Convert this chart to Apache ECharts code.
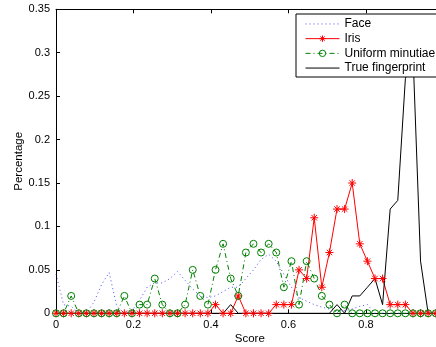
<!DOCTYPE html>
<html><head><meta charset="utf-8">
<script src="https://cdn.jsdelivr.net/npm/echarts@6/dist/echarts.min.js"></script>
<style>html,body{margin:0;padding:0;background:#fff}#c{width:436px;height:347px}</style>
</head><body><div id="c"></div>
<script>
// Score bins (x values)
const scores = [0, 0.0196, 0.0392, 0.0588, 0.0784, 0.098, 0.1176, 0.1372, 0.1568, 0.1764,
  0.196, 0.2156, 0.2352, 0.2548, 0.2744, 0.294, 0.3136, 0.3332, 0.3528, 0.3724,
  0.392, 0.4116, 0.4312, 0.4508, 0.4704, 0.49, 0.5096, 0.5292, 0.5488, 0.5684,
  0.588, 0.6076, 0.6272, 0.6468, 0.6664, 0.686, 0.7056, 0.7252, 0.7448, 0.7644,
  0.784, 0.8036, 0.8232, 0.8428, 0.8624, 0.882, 0.9016, 0.9212, 0.9408, 0.9604, 0.98];
const face = [0.045, 0.01, 0.008, 0, 0, 0.013, 0.033, 0.047, 0.008, 0,
  0.003, 0.015, 0.03, 0.035, 0.035, 0.04, 0.048, 0.038, 0.028, 0.02,
  0.018, 0.02, 0.025, 0.03, 0.03, 0.04, 0.05, 0.062, 0.068, 0.06,
  0.045, 0.03, 0.018, 0.014, 0.01, 0.007, 0.005, 0.003, 0.003, 0.005,
  0.008, 0.01, 0, 0, 0, 0, 0, 0, 0, 0, 0];
const iris = [0, 0, 0, 0, 0, 0, 0, 0, 0, 0,
  0, 0, 0, 0, 0, 0, 0, 0, 0, 0,
  0, 0.01, 0, 0, 0.02, 0, 0, 0, 0, 0.01,
  0.01, 0.01, 0.05, 0.04, 0.11, 0.03, 0.07, 0.12, 0.12, 0.15,
  0.08, 0.06, 0.04, 0.04, 0.01, 0.01, 0.01, 0, 0, 0, 0];
const minutiae = [0, 0, 0.02, 0, 0, 0, 0, 0, 0, 0.02,
  0, 0.01, 0.01, 0.04, 0.01, 0, 0, 0.01, 0.05, 0.02,
  0.01, 0.05, 0.08, 0.04, 0.02, 0.07, 0.08, 0.07, 0.08, 0.07,
  0.03, 0.06, 0.01, 0.06, 0.04, 0.02, 0.01, 0, 0.01, 0,
  0, 0, 0, 0, 0, 0, 0, 0, 0, 0, 0];
const fingerprint = [0, 0, 0, 0, 0, 0, 0, 0, 0, 0,
  0, 0, 0, 0, 0, 0, 0, 0, 0, 0,
  0, 0, 0, 0.01, 0, 0, 0, 0, 0, 0,
  0, 0, 0, 0, 0, 0, 0, 0.01, 0, 0.02,
  0.02, 0.03, 0.04, 0.01, 0.12, 0.13, 0.27, 0.30, 0.06, 0, 0];
const seriesNames = ['Face', 'Iris', 'Uniform minutiae', 'True fingerprint'];
const xLabel = 'Score';
const yLabel = 'Percentage';

const pair = arr => scores.map((s, i) => [s, arr[i]]);
const starPath = 'path://M5 0L5 10M0 5L10 5M1.6 1.6L8.4 8.4M8.4 1.6L1.6 8.4';
const fmt = v => String(parseFloat(Number(v).toFixed(2)));
const chart = echarts.init(document.getElementById('c'), null, {renderer: 'canvas'});
const font = 'Liberation Sans, Arial, sans-serif';
chart.setOption({
  animation: false,
  backgroundColor: '#fff',
  textStyle: {fontFamily: font},
  grid: {left: 56, top: 9.3, width: 387.5, height: 304, containLabel: false, outerBoundsMode: 'none'},
  xAxis: [{
    type: 'value', min: 0, max: 1, interval: 0.2, position: 'bottom',
    name: xLabel, nameLocation: 'middle', nameGap: 20, nameMoveOverlap: false,
    nameTextStyle: {fontSize: 11.5, color: '#000', fontFamily: font},
    axisLine: {lineStyle: {color: '#000', width: 1}},
    axisTick: {inside: true, length: 4, lineStyle: {color: '#000'}},
    axisLabel: {fontSize: 11, color: '#000', margin: 6, formatter: fmt, fontFamily: font},
    splitLine: {show: false}
  }, {
    type: 'value', min: 0, max: 1, interval: 0.2, position: 'top',
    axisLine: {lineStyle: {color: '#000', width: 1}},
    axisTick: {inside: true, length: 4, lineStyle: {color: '#000'}},
    axisLabel: {show: false}, splitLine: {show: false}
  }],
  yAxis: [{
    type: 'value', min: 0, max: 0.35, interval: 0.05, position: 'left',
    name: yLabel, nameLocation: 'middle', nameGap: 31, nameMoveOverlap: false,
    nameTextStyle: {fontSize: 11.5, color: '#000', fontFamily: font},
    axisLine: {show: true, lineStyle: {color: '#000', width: 1}},
    axisTick: {show: true, inside: true, length: 4, lineStyle: {color: '#000'}},
    axisLabel: {fontSize: 11, color: '#000', margin: 6, formatter: fmt, fontFamily: font},
    splitLine: {show: false}
  }],
  legend: {
    data: [
      {name: seriesNames[0], itemStyle: {opacity: 0}, lineStyle: {width: 1}},
      {name: seriesNames[1], itemStyle: {color: '#ff0000', borderColor: '#ff0000', borderWidth: 1}, lineStyle: {width: 1}},
      {name: seriesNames[2], itemStyle: {color: 'transparent', borderColor: '#008000', borderWidth: 1}, lineStyle: {width: 1}},
      {name: seriesNames[3], itemStyle: {opacity: 0}, lineStyle: {width: 1}}
    ],
    orient: 'vertical', left: 296, top: 14,
    padding: [2.6, 8, 1.6, 9], itemWidth: 34, itemHeight: 8, itemGap: 0,
    textStyle: {fontSize: 12, lineHeight: 14.7, color: '#000', fontFamily: font},
    backgroundColor: '#fff', borderColor: '#000', borderWidth: 1, z: 10
  },
  series: [{
    name: seriesNames[0], type: 'line', data: pair(face), symbol: 'none',
    lineStyle: {color: '#0000ff', width: 1, type: [1, 3], opacity: 0.7},
    itemStyle: {color: '#0000ff'}
  }, {
    name: seriesNames[1], type: 'line', data: pair(iris), symbol: starPath, symbolSize: 8,
    showAllSymbol: true,
    lineStyle: {color: '#ff0000', width: 1},
    itemStyle: {color: '#ff0000', borderColor: '#ff0000', borderWidth: 1}
  }, {
    name: seriesNames[2], type: 'line', data: pair(minutiae), symbol: 'circle', symbolSize: 7,
    showAllSymbol: true,
    lineStyle: {color: '#008000', width: 1, type: [5, 3, 1, 3]},
    itemStyle: {color: 'transparent', borderColor: '#008000', borderWidth: 1}
  }, {
    name: seriesNames[3], type: 'line', data: pair(fingerprint), symbol: 'none',
    lineStyle: {color: '#000', width: 1},
    itemStyle: {color: '#000'}
  }]
});
</script></body></html>
